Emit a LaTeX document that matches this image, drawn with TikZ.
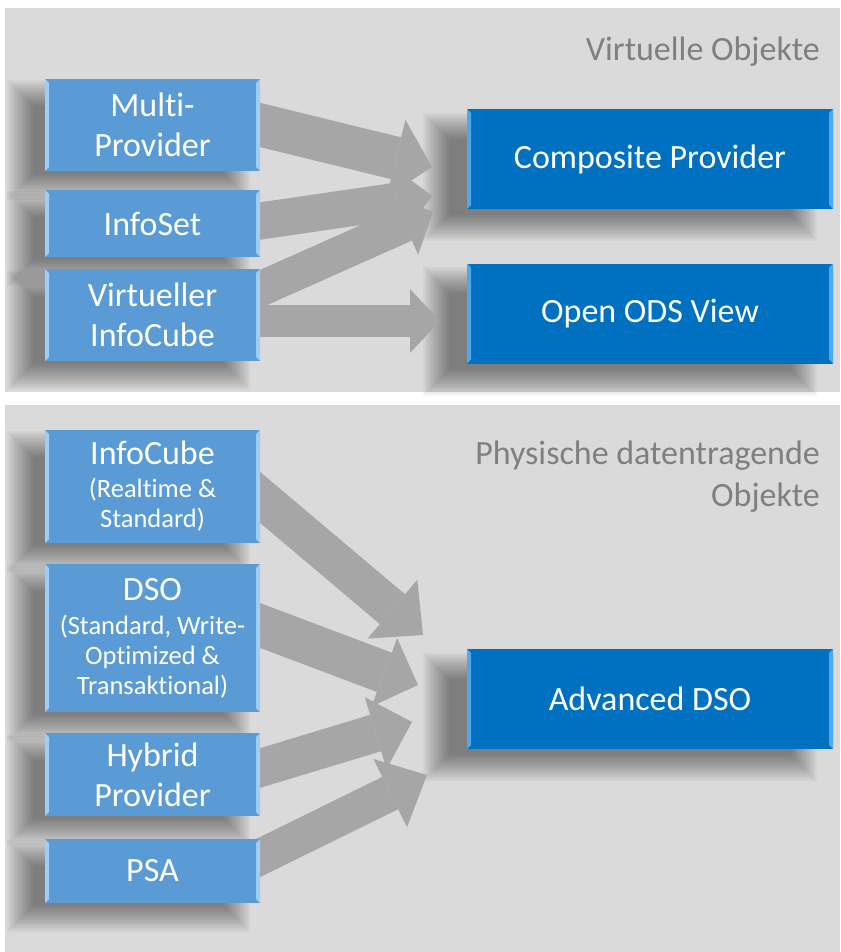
\documentclass[tikz,border=0pt]{standalone}
\usepackage{fontspec}
\setmainfont[Ligatures=NoCommon]{Carlito}
\usetikzlibrary{arrows.meta,calc}
\usepackage{xcolor}

\definecolor{panelgray}{RGB}{218,218,218}
\definecolor{arrowgray}{RGB}{166,166,166}
\definecolor{lightblue}{RGB}{91,155,213}
\definecolor{lightbevel}{RGB}{160,205,245}
\definecolor{darkblue}{RGB}{0,112,192}
\definecolor{darkbevel}{RGB}{80,168,236}
\definecolor{titlegray}{RGB}{127,127,127}

\pgfdeclarelayer{back}
\pgfdeclarelayer{shade}
\pgfdeclarelayer{arrowlayer}
\pgfsetlayers{back,shade,arrowlayer,main}

\newcommand{\bigsz}{\fontsize{34}{40}\selectfont}
\newcommand{\smallsz}{\fontsize{26.5}{30}\selectfont}

\begin{document}
\begin{tikzpicture}[x=1pt, y=1pt, font=\bigsz,
    bevel/.style={path picture={
      \fill[#1] (path picture bounding box.north west) -- ++(4pt,-4pt)
        -- ($(path picture bounding box.south west)+(4pt,4pt)$)
        -- (path picture bounding box.south west) -- cycle;
      \fill[#1] (path picture bounding box.north east) -- ++(-4pt,-4pt)
        -- ($(path picture bounding box.south east)+(-4pt,4pt)$)
        -- (path picture bounding box.south east) -- cycle;}},
    src/.style={fill=lightblue, text=white, inner sep=0pt,
                minimum width=215pt, minimum height=#1,
                align=center, bevel=lightbevel},
    tgt/.style={fill=darkblue, text=white, inner sep=0pt,
                minimum width=366pt, minimum height=100pt,
                align=center, bevel=darkbevel},
    titletxt/.style={text=titlegray, inner sep=0pt,
                     font=\fontsize{34}{42}\selectfont},
    shadowstep/.style={fill=black, opacity=0.036},
    barrow/.style={draw=arrowgray, line width=#1, shorten <=-30pt}]

  %% Canvas and the two panels
  \useasboundingbox (0,0) rectangle (840,-952);
  \begin{pgfonlayer}{back}
    \fill[white] (0,0) rectangle (840,-952);
    \fill[panelgray] (5,-8) rectangle (840,-392);
    \fill[panelgray] (5,-405) rectangle (840,-952);
  \end{pgfonlayer}

  %% Panel titles
  \node[titletxt, anchor=east] (virt) at (820,-52) {Virtuelle Objekte};
  \node[titletxt, anchor=east, align=right] (phys) at (820,-477)
    {Physische datentragende\\Objekte};

  %% Virtual objects
  \node[src=92pt]  (mp)  at (152.5,-125)   {Multi-\\Provider};
  \node[src=67pt]  (is)  at (152.5,-223.5) {InfoSet};
  \node[src=92pt]  (vic) at (152.5,-315)   {Virtueller\\InfoCube};
  \node[tgt]       (cp)  at (650,-159)     {Composite Provider};
  \node[tgt]       (ods) at (650,-313.5)   {Open ODS View};

  %% Physical objects
  \node[src=113pt] (ic)  at (152.5,-486.5)
    {InfoCube\\[-7pt]\smallsz(Realtime \&\\[-10pt]\smallsz Standard)};
  \node[src=148pt] (dso) at (152.5,-638)
    {DSO\\[-6pt]\smallsz(Standard, Write-\\[-10pt]\smallsz Optimized \&\\[-10pt]
     \smallsz Transaktional)};
  \node[src=83pt]  (hp)  at (152.5,-774.5) {Hybrid\\Provider};
  \node[src=64pt]  (psa) at (152.5,-871)   {PSA};
  \node[tgt]       (adso) at (650,-699)    {Advanced DSO};

  %% Soft shadows behind the boxes
  \begin{pgfonlayer}{shade}
    \foreach \n in {mp,is,vic,ic,dso,hp,psa}
      \foreach \r in {0,2,...,26}
        \fill[shadowstep] ($(\n.north west)+(-38+\r,-1-\r)$)
          rectangle ($(\n.south east)+(-10-\r,-29+\r)$);
    \foreach \n in {cp,ods,adso}
      \foreach \r in {0,2,...,26}
        \fill[shadowstep] ($(\n.north west)+(-44+\r,-4-\r)$)
          rectangle ($(\n.south east)+(-16-\r,-32+\r)$);
  \end{pgfonlayer}

  %% Arrow tips
  \coordinate (t1) at (432,-167);
  \coordinate (t2) at (432,-196);
  \coordinate (t3) at (433,-212);
  \coordinate (t4) at (440,-321);
  \coordinate (b1) at (423,-635);
  \coordinate (b2) at (418,-685);
  \coordinate (b3) at (412,-722);
  \coordinate (b4) at (427,-775);

  \begin{pgfonlayer}{arrowlayer}
    \draw[barrow=43pt, -{Triangle[width=79pt,length=37pt,line width=0pt]}]
      (mp.east) -- (t1);
    \draw[barrow=37pt, -{Triangle[width=73pt,length=36pt,line width=0pt]}]
      ($(is.east)+(0,2.5)$) -- (t2);
    \draw[barrow=35pt, -{Triangle[width=66pt,length=31pt,line width=0pt]}]
      ($(vic.east)+(0,26)$) -- (t3);
    \draw[barrow=32pt, -{Triangle[width=64pt,length=30pt,line width=0pt]}]
      ($(vic.east)+(0,-6)$) -- (t4);

    \draw[barrow=39pt, -{Triangle[width=77pt,length=40pt,line width=0pt]}]
      ($(ic.east)+(0,-11)$) -- (b1);
    \draw[barrow=42pt, -{Triangle[width=73pt,length=36pt,line width=0pt]}]
      ($(dso.east)+(0,12.5)$) -- (b2);
    \draw[barrow=38pt, -{Triangle[width=75pt,length=38pt,line width=0pt]}]
      ($(hp.east)+(0,6.5)$) -- (b3);
    \draw[barrow=36pt, -{Triangle[width=76pt,length=41pt,line width=0pt]}]
      ($(psa.east)+(0,14)$) -- (b4);
  \end{pgfonlayer}
\end{tikzpicture}
\end{document}
